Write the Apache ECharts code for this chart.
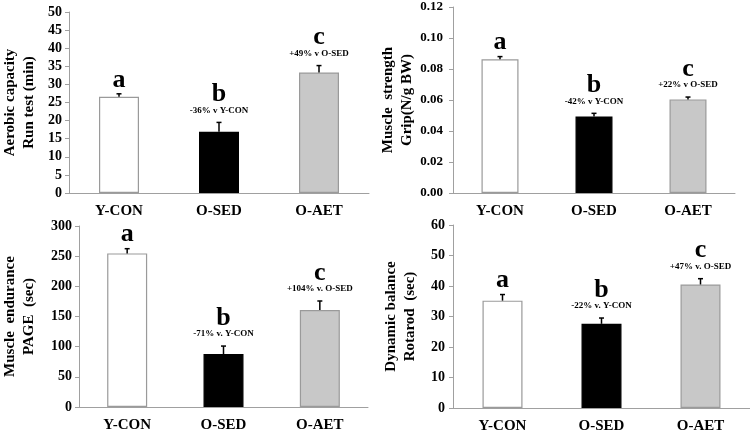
<!DOCTYPE html>
<html><head><meta charset="utf-8">
<script src="https://cdn.jsdelivr.net/npm/echarts@6/dist/echarts.min.js"></script>
<style>html,body{margin:0;padding:0;background:#fff}#c{width:750px;height:434px}</style>
</head><body><div id="c"></div>
<script>
const categories = ['Y-CON', 'O-SED', 'O-AET'];
const letters = ['a', 'b', 'c'];

const aerobicMean = [26.6, 16.9, 33.3];
const aerobicErr = [0.8, 2.6, 1.9];
const aerobicNotes = ['', '-36% v Y-CON', '+49% v O-SED'];
const aerobicTicks = [0, 50, 5];

const gripMean = [0.0863, 0.0494, 0.0604];
const gripErr = [0.0017, 0.0020, 0.0015];
const gripNotes = ['', '-42% v Y-CON', '+22% v O-SED'];
const gripTicks = [0, 0.12, 0.02];

const enduranceMean = [254.6, 87.8, 160.8];
const enduranceErr = [7.8, 13.2, 14.9];
const enduranceNotes = ['', '-71% v. Y-CON', '+104% v. O-SED'];
const enduranceTicks = [0, 300, 50];

const balanceMean = [35.2, 27.6, 40.5];
const balanceErr = [2.0, 1.9, 1.9];
const balanceNotes = ['', '-22% v. Y-CON', '+47% v. O-SED'];
const balanceTicks = [0, 60, 10];

const names = ['Aerobic capacity\nRun test (min)', 'Muscle  strength\nGrip(N/g BW)', 'Muscle  endurance\nPAGE  (sec)', 'Dynamic balance\nRotarod  (sec)'];

const panels = [
  {mean: aerobicMean, err: aerobicErr, notes: aerobicNotes, ticks: aerobicTicks, dec: 0,
   grid: {left: 69, top: 12, width: 300, height: 181}, barWidth: 40, nameGap: 30, labelSize: 14, labelMargin: 7},
  {mean: gripMean, err: gripErr, notes: gripNotes, ticks: gripTicks, dec: 2,
   grid: {left: 453, top: 7, width: 282, height: 186}, barWidth: 37, nameGap: 33, labelSize: 13, labelMargin: 10},
  {mean: enduranceMean, err: enduranceErr, notes: enduranceNotes, ticks: enduranceTicks, dec: 0,
   grid: {left: 68, top: 226, width: 300, height: 181}, barWidth: 40, nameGap: 40, labelSize: 14, labelMargin: 7},
  {mean: balanceMean, err: balanceErr, notes: balanceNotes, ticks: balanceTicks, dec: 0,
   grid: {left: 453, top: 225, width: 297, height: 184}, barWidth: 40, nameGap: 33, labelSize: 14, labelMargin: 8}
];

const fills = ['#ffffff', '#000000', '#c8c8c8'];
const borders = ['#9a9a9a', '#000000', '#9a9a9a'];
const FONT = '"Liberation Serif", "Times New Roman", serif';
const axisGray = '#a0a0a0';

const grids = [], xAxes = [], yAxes = [], series = [];
panels.forEach((p, k) => {
  grids.push(p.grid);
  xAxes.push({
    type: 'category', gridIndex: k, data: categories,
    axisLine: {lineStyle: {color: axisGray, width: 1}},
    axisTick: {show: false},
    axisLabel: {color: '#000', fontFamily: FONT, fontWeight: 'bold', fontSize: 15, margin: 11}
  });
  yAxes.push({
    type: 'value', gridIndex: k, min: p.ticks[0], max: p.ticks[1], interval: p.ticks[2],
    name: names[k], nameLocation: 'middle', nameGap: p.nameGap, nameRotate: 90,
    nameTextStyle: {color: '#000', fontFamily: FONT, fontWeight: 'bold', fontSize: 15, lineHeight: 19},
    splitLine: {show: false},
    axisLine: {show: true, lineStyle: {color: axisGray, width: 1}},
    axisTick: {show: true, inside: false, length: 4, lineStyle: {color: axisGray}},
    axisLabel: {color: '#000', fontFamily: FONT, fontWeight: 'bold', fontSize: p.labelSize, margin: p.labelMargin,
      formatter: v => v.toFixed(p.dec)}
  });
  series.push({
    type: 'bar', xAxisIndex: k, yAxisIndex: k, barWidth: p.barWidth, silent: true,
    data: p.mean.map((v, i) => ({value: v, itemStyle: {color: fills[i], borderColor: borders[i], borderWidth: 1.2}}))
  });
  series.push({
    type: 'custom', xAxisIndex: k, yAxisIndex: k, clip: false, silent: true, z: 5,
    data: p.mean.map((v, i) => [i, v, p.err[i]]),
    renderItem: (params, api) => {
      const i = params.dataIndex;
      const base = api.coord([api.value(0), api.value(1)]);
      const top = api.coord([api.value(0), api.value(1) + api.value(2)]);
      const note = p.notes[i];
      const children = [
        {type: 'line', shape: {x1: base[0], y1: base[1], x2: top[0], y2: top[1]}, style: {stroke: '#000', lineWidth: 1.5}},
        {type: 'line', shape: {x1: top[0] - 2.5, y1: top[1], x2: top[0] + 2.5, y2: top[1]}, style: {stroke: '#000', lineWidth: 1.5}}
      ];
      let letterY = top[1] - 14;
      if (note) {
        const noteY = top[1] - 12;
        children.push({type: 'text', style: {text: note, x: top[0], y: noteY, align: 'center', verticalAlign: 'middle',
          font: 'bold 9px ' + FONT, fill: '#000'}});
        letterY = noteY - 16;
      }
      children.push({type: 'text', style: {text: letters[i], x: top[0], y: letterY, align: 'center', verticalAlign: 'middle',
        font: 'bold 26px ' + FONT, fill: '#000'}});
      return {type: 'group', children};
    }
  });
});

const chart = echarts.init(document.getElementById('c'), null, {renderer: 'canvas'});
chart.setOption({animation: false, backgroundColor: '#fff', grid: grids, xAxis: xAxes, yAxis: yAxes, series});
</script></body></html>
